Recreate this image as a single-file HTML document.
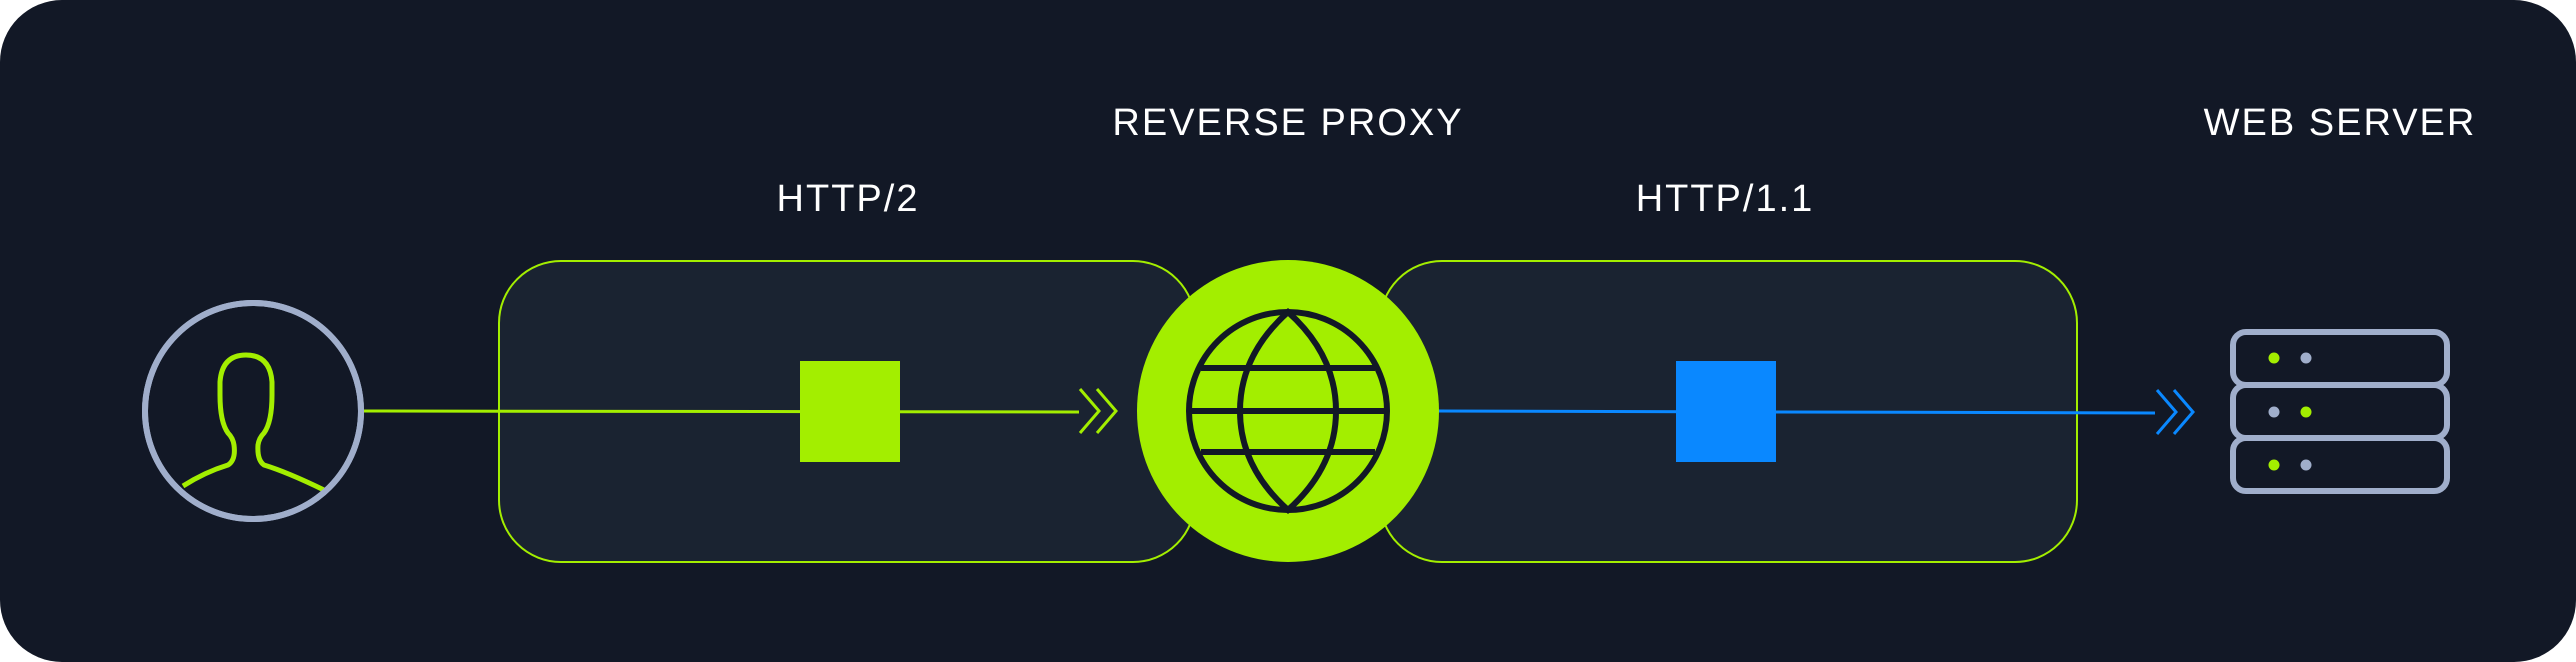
<!DOCTYPE html>
<html><head><meta charset="utf-8"><style>
html,body{margin:0;padding:0;background:#fff;}
svg{display:block;}
text{font-family:"Liberation Sans",sans-serif;fill:#fff;font-size:38px;letter-spacing:2px;text-anchor:middle;}
</style></head><body>
<svg width="2576" height="662" viewBox="0 0 2576 662" xmlns="http://www.w3.org/2000/svg">
<rect x="0" y="0" width="2576" height="662" rx="62" fill="#121826"/>
<rect x="499" y="261" width="696" height="301" rx="62" fill="#1a2331" stroke="#a3ee00" stroke-width="2"/>
<rect x="1380" y="261" width="697" height="301" rx="62" fill="#1a2331" stroke="#a3ee00" stroke-width="2"/>
<text x="1288" y="135">REVERSE PROXY</text>
<text x="2340" y="135">WEB SERVER</text>
<text x="848" y="211">HTTP/2</text>
<text x="1725" y="211">HTTP/1.1</text>
<line x1="363" y1="411" x2="1079" y2="412" stroke="#a3ee00" stroke-width="3"/>
<polyline points="1080,389 1099,411 1080,433" fill="none" stroke="#a3ee00" stroke-width="3"/>
<polyline points="1097,389 1116,411 1097,433" fill="none" stroke="#a3ee00" stroke-width="3"/>
<rect x="800" y="361" width="100" height="101" fill="#a3ee00"/>
<line x1="1438" y1="411" x2="2155" y2="413" stroke="#0a88ff" stroke-width="3"/>
<polyline points="2157,390 2176,412 2157,434" fill="none" stroke="#0a88ff" stroke-width="3"/>
<polyline points="2174,390 2193,412 2174,434" fill="none" stroke="#0a88ff" stroke-width="3"/>
<rect x="1676" y="361" width="100" height="101" fill="#0a88ff"/>
<circle cx="253" cy="411" r="108" fill="#121826" stroke="#a0aecb" stroke-width="6"/>
<g fill="none" stroke="#a3ee00" stroke-width="5">
<path d="M183,486 Q205,472 228,465 Q236,460 234,445 Q233,438 228,433 Q220,422 220,395 L220,382 Q222,355 246,355 Q270,355 272,382 L272,395 Q272,422 264,433 Q259,438 258,445 Q257,460 264,465 Q287,472 324,490"/>
</g>
<circle cx="253" cy="411" r="108" fill="none" stroke="#a0aecb" stroke-width="6"/>
<circle cx="1288" cy="411" r="151" fill="#a3ee00"/>
<g fill="none" stroke="#121826" stroke-width="6">
<circle cx="1288" cy="411" r="99"/>
<path d="M1288,312 Q1240,355 1240,411 Q1240,467 1288,510 Q1336,467 1336,411 Q1336,355 1288,312 Z"/>
<line x1="1201" y1="368" x2="1375" y2="368"/>
<line x1="1189" y1="411" x2="1387" y2="411"/>
<line x1="1201" y1="452" x2="1375" y2="452"/>
</g>
<g fill="#121826" stroke="#a0aecb" stroke-width="6">
<rect x="2233" y="332" width="214" height="53" rx="13"/>
<rect x="2233" y="385" width="214" height="53" rx="13"/>
<rect x="2233" y="438" width="214" height="53" rx="13"/>
</g>
<circle cx="2274" cy="358" r="5.5" fill="#a3ee00"/>
<circle cx="2306" cy="358" r="5.5" fill="#a0aecb"/>
<circle cx="2274" cy="412" r="5.5" fill="#a0aecb"/>
<circle cx="2306" cy="412" r="5.5" fill="#a3ee00"/>
<circle cx="2274" cy="465" r="5.5" fill="#a3ee00"/>
<circle cx="2306" cy="465" r="5.5" fill="#a0aecb"/>
</svg>
</body></html>
